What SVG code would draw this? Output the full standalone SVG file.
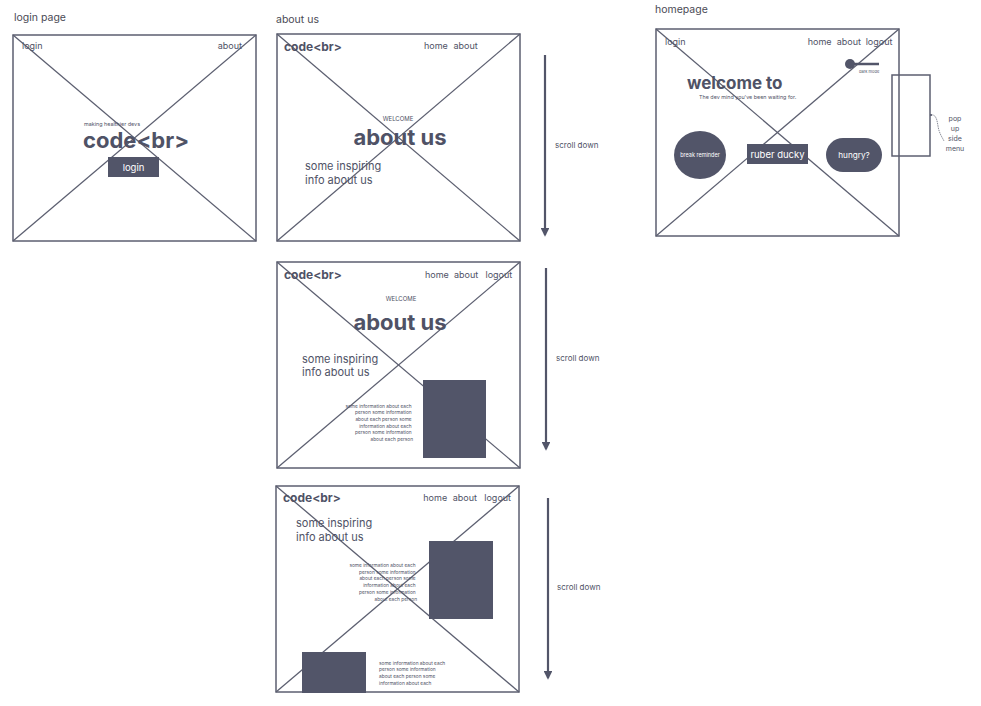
<svg xmlns="http://www.w3.org/2000/svg" width="981" height="706" viewBox="0 0 981 706">
<style>
text{font-family:Inter,"Liberation Sans",sans-serif;fill:#4f5266}
.lbl{font-size:10.5px;fill:#4a4a55}
.frame{fill:none;stroke:#5c5f70;stroke-width:1.5}
.x{stroke:#5c5f70;stroke-width:1.3}
.dk{fill:#525569}
.nav{font-size:9px}
.logo{font-size:12px;font-weight:700}
.big{font-size:22px;font-weight:700}
.wel{font-size:6px}
.insp{font-size:11px}
.tiny{font-size:4.8px}
.w{fill:#ffffff}
.arr{stroke:#525569;stroke-width:2.2;fill:none}
.sd{font-size:8px}
.pm{font-size:7px}
</style>
<defs>
<marker id="ah" viewBox="0 0 10 10" refX="8" refY="5" markerWidth="4" markerHeight="4" orient="auto" markerUnits="strokeWidth">
<path d="M0,0 L10,5 L0,10 z" fill="#525569"/>
</marker>
</defs>
<rect width="981" height="706" fill="#ffffff"/>

<g id="login-page">
<text class="lbl" x="14" y="21">login page</text>
<rect class="frame" x="13" y="35" width="243" height="206"/>
<line class="x" x1="13" y1="35" x2="256" y2="241"/>
<line class="x" x1="256" y1="35" x2="13" y2="241"/>
<text class="nav" x="22" y="49">login</text>
<text class="nav" x="242" y="49" text-anchor="end">about</text>
<text x="84" y="126" font-size="5.4">making healthier devs</text>
<text class="big" x="83" y="148" font-size="21.5">code&lt;br&gt;</text>
<rect class="dk" x="108" y="157" width="51" height="20"/>
<text class="w" x="133.5" y="170.5" font-size="9.5" text-anchor="middle">login</text>
</g>

<g id="about-us-1">
<text class="lbl" x="276" y="23">about us</text>
<rect class="frame" x="277" y="34" width="243" height="207"/>
<line class="x" x1="277" y1="34" x2="520" y2="241"/>
<line class="x" x1="520" y1="34" x2="277" y2="241"/>
<text class="logo" x="284" y="51">code&lt;br&gt;</text>
<text class="nav" y="49"><tspan x="424">home</tspan><tspan x="453.5">about</tspan></text>
<text class="wel" x="398" y="121" text-anchor="middle">WELCOME</text>
<text class="big" x="400" y="145" text-anchor="middle">about us</text>
<text class="insp" x="305" y="170">some inspiring</text>
<text class="insp" x="305" y="184">info about us</text>
</g>

<g id="about-us-2">
<rect class="frame" x="277" y="262" width="243" height="206"/>
<line class="x" x1="277" y1="262" x2="520" y2="468"/>
<line class="x" x1="520" y1="262" x2="277" y2="468"/>
<text class="logo" x="284" y="279">code&lt;br&gt;</text>
<text class="nav" y="278"><tspan x="425">home</tspan><tspan x="454">about</tspan><tspan x="485.5">logout</tspan></text>
<text class="wel" x="401" y="301" text-anchor="middle">WELCOME</text>
<text class="big" x="400" y="330" text-anchor="middle">about us</text>
<text class="insp" x="302" y="363">some inspiring</text>
<text class="insp" x="302" y="376">info about us</text>
<rect class="dk" x="423" y="380" width="63" height="78"/>
<text class="tiny" text-anchor="end">
<tspan x="413" y="407.5">some information about each</tspan>
<tspan x="413" y="414.2">person some information</tspan>
<tspan x="413" y="420.9">about each person some</tspan>
<tspan x="413" y="427.6">information about each</tspan>
<tspan x="413" y="434.3">person some information</tspan>
<tspan x="413" y="441">about each person</tspan>
</text>
</g>

<g id="about-us-3">
<rect class="frame" x="276" y="486" width="243" height="206"/>
<line class="x" x1="276" y1="486" x2="519" y2="692"/>
<line class="x" x1="519" y1="486" x2="276" y2="692"/>
<text class="logo" x="283" y="502">code&lt;br&gt;</text>
<text class="nav" y="501"><tspan x="423.3">home</tspan><tspan x="452.7">about</tspan><tspan x="484.3">logout</tspan></text>
<text class="insp" x="296" y="527">some inspiring</text>
<text class="insp" x="296" y="541">info about us</text>
<rect class="dk" x="429" y="541" width="64" height="78"/>
<text class="tiny" text-anchor="end">
<tspan x="417" y="567">some information about each</tspan>
<tspan x="417" y="573.7">person some information</tspan>
<tspan x="417" y="580.4">about each person some</tspan>
<tspan x="417" y="587.1">information about each</tspan>
<tspan x="417" y="593.8">person some information</tspan>
<tspan x="417" y="600.5">about each person</tspan>
</text>
<rect class="dk" x="302" y="652" width="64" height="41"/>
<text class="tiny">
<tspan x="379" y="664.5">some information about each</tspan>
<tspan x="379" y="671.2">person some information</tspan>
<tspan x="379" y="677.9">about each person some</tspan>
<tspan x="379" y="684.6">information about each</tspan>
</text>
</g>

<g id="homepage">
<text class="lbl" x="655" y="13">homepage</text>
<rect class="frame" x="656" y="29" width="243" height="207"/>
<line class="x" x1="656" y1="29" x2="899" y2="236"/>
<line class="x" x1="899" y1="29" x2="656" y2="236"/>
<text class="nav" x="665" y="45">login</text>
<text class="nav" y="45"><tspan x="807.7">home</tspan><tspan x="836.7">about</tspan><tspan x="865.7">logout</tspan></text>
<line x1="850" y1="64" x2="879" y2="64" stroke="#525569" stroke-width="2.5"/>
<circle class="dk" cx="850" cy="64" r="5"/>
<text x="859" y="73" font-size="4">dark mode</text>
<text x="687" y="89" font-size="17" font-weight="700">welcome to</text>
<text x="699" y="99" font-size="5.4">The dev mind you've been waiting for.</text>
<ellipse class="dk" cx="700" cy="155" rx="26" ry="24"/>
<text class="w" x="700" y="157" font-size="5.5" text-anchor="middle">break reminder</text>
<rect class="dk" x="747" y="144" width="61" height="20"/>
<text class="w" x="777.5" y="157.5" font-size="9.5" text-anchor="middle">ruber ducky</text>
<rect class="dk" x="826" y="138" width="56" height="34" rx="17"/>
<text class="w" x="854" y="158" font-size="8.2" text-anchor="middle">hungry?</text>
</g>

<g id="side-menu">
<rect class="frame" x="892" y="75" width="38" height="81"/>
<text class="pm" x="955" y="121" text-anchor="middle">pop</text>
<text class="pm" x="955" y="131" text-anchor="middle">up</text>
<text class="pm" x="955" y="141" text-anchor="middle">side</text>
<text class="pm" x="955" y="151" text-anchor="middle">menu</text>
</g>

<g id="connectors">
<path d="M931,115 C936,114 937,120 938,126 C939,133 942,137 944,141" fill="none" stroke="#6a6d7c" stroke-width="0.8" stroke-dasharray="1.5,0.8"/>
<circle cx="931" cy="115" r="1" fill="#525569"/>
<line class="arr" x1="545" y1="55" x2="545" y2="235" marker-end="url(#ah)"/>
<line class="arr" x1="546" y1="268" x2="546" y2="449" marker-end="url(#ah)"/>
<line class="arr" x1="548" y1="498" x2="548" y2="678" marker-end="url(#ah)"/>
<text class="sd" x="555" y="148">scroll down</text>
<text class="sd" x="556" y="361">scroll down</text>
<text class="sd" x="557" y="590">scroll down</text>
</g>
</svg>
